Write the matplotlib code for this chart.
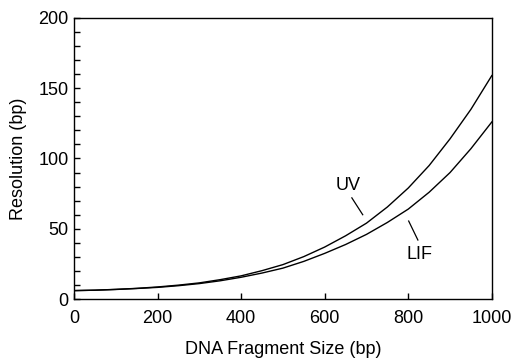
import matplotlib
matplotlib.use('Agg')
import matplotlib.pyplot as plt
from matplotlib.ticker import MultipleLocator

plt.rcParams['font.family'] = ['Liberation Sans', 'DejaVu Sans']

fragment_size = [0, 50, 100, 150, 200, 250, 300, 350, 400, 450, 500,
                 550, 600, 650, 700, 750, 800, 850, 900, 950, 1000]
uv_resolution = [6.0, 6.3, 6.9, 7.6, 8.6, 9.9, 11.5, 13.8, 16.5, 20.2, 24.5,
                 30.2, 37.0, 45.0, 54.0, 65.5, 79.0, 95.0, 114.0, 135.0, 159.0]
lif_resolution = [6.0, 6.3, 6.8, 7.5, 8.3, 9.5, 11.0, 13.0, 15.5, 18.5, 22.0,
                  26.8, 32.5, 38.8, 46.0, 54.5, 64.0, 76.0, 90.0, 107.0, 126.0]

fs = 13

fig = plt.figure(figsize=(5.15, 3.59), dpi=100)
ax = fig.add_axes([0.1437, 0.167, 0.8113, 0.783])

ax.plot(fragment_size, uv_resolution, color='black', lw=1)
ax.plot(fragment_size, lif_resolution, color='black', lw=1)

# labels with leader lines
ax.text(655, 81, 'UV', ha='center', va='center', fontsize=fs)
ax.plot([665, 691], [72, 60], color='black', lw=0.9)
ax.text(828, 32, 'LIF', ha='center', va='center', fontsize=fs)
ax.plot([801, 823], [55.5, 42], color='black', lw=0.9)

ax.set_xlim(0, 1000)
ax.set_ylim(0, 200)
ax.xaxis.set_major_locator(MultipleLocator(200))
ax.yaxis.set_major_locator(MultipleLocator(50))
ax.yaxis.set_minor_locator(MultipleLocator(10))
ax.tick_params(which='both', direction='in', length=4, width=1, labelsize=fs,
               top=False, right=False)
ax.tick_params(axis='x', pad=8)
ax.tick_params(axis='y', pad=4)
for s in ax.spines.values():
    s.set_linewidth(1)

ax.set_xlabel('DNA Fragment Size (bp)', fontsize=fs, labelpad=10)
ax.set_ylabel('Resolution (bp)', fontsize=fs, labelpad=8)

fig.savefig('out.png', dpi=100)
